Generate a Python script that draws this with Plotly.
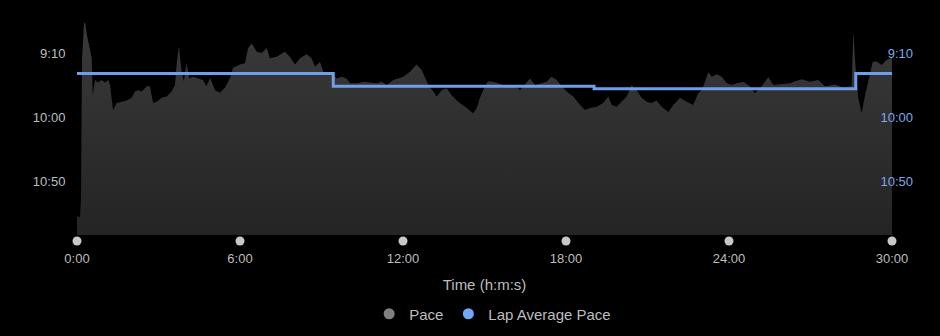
import plotly.graph_objects as go

# Pace samples: elapsed time (s) and pace (s per mile)
time_s = [0, 6.6, 8.8, 11, 15.5, 17.7, 22, 28.7, 32.5, 34.7, 39.8, 46.4, 54.6, 61.8, 69, 73,
          79.5, 87.7, 98.7, 109.8, 120.8, 128, 135.4, 142.9, 154, 161, 167.9, 176, 187, 198,
          209, 216.4, 220, 225, 231, 236, 242, 248, 256, 267, 278, 286, 294, 305, 316, 327,
          338, 344.5, 360, 371, 378, 386, 397, 408, 419, 426, 441, 459, 470, 481.5, 492.5,
          507, 518, 525.6, 536.7, 544, 562.5, 573.6, 584.6, 595.6, 603, 617.7, 636, 647, 662,
          673, 684, 698.6, 709.6, 720.7, 735.5, 750, 761, 776, 787, 794.5, 805.5, 816.5,
          827.6, 842, 857, 875, 883, 890, 901, 908, 919, 930.5, 941.5, 956, 967, 978, 989,
          1000.5, 1011.5, 1026, 1037, 1048, 1059.5, 1070.5, 1081.5, 1096, 1111, 1122, 1133,
          1148, 1162, 1173.5, 1181, 1192, 1203, 1214, 1225, 1236, 1247, 1258, 1269, 1280,
          1291, 1306, 1317, 1332, 1346.5, 1361, 1372, 1380, 1394.5, 1402, 1413, 1424, 1435,
          1446, 1457.6, 1471.6, 1486, 1497, 1508.5, 1527, 1538, 1560, 1575, 1586, 1600.5,
          1619, 1637, 1652, 1674, 1692.5, 1711, 1714.5, 1719, 1725.5, 1733, 1740.5, 1751.5,
          1757.5, 1767, 1777, 1788, 1800]
pace_s = [678, 678, 665, 555, 527, 526, 536, 546, 554, 583, 571, 573, 571, 573, 571, 575,
          594.5, 589, 588, 587, 585, 580, 579, 580, 576, 576, 589, 588, 585, 584,
          580, 575, 559, 545, 565, 572, 558, 570, 568.5, 570, 571, 576, 569.5, 579, 581, 577,
          569.5, 561.5, 559, 558, 546, 542.5, 549, 550, 546, 554, 553, 549, 553, 559, 554,
          551, 554, 560.7, 557, 564.6, 566, 570, 568.5, 570, 573.7, 573.7, 572.4, 573, 573.7,
          572.4, 575, 571, 570, 568.5, 564.6, 559, 563, 575, 580, 584, 579, 577.6,
          583, 588, 592, 597, 593, 585, 576, 572, 572.4, 573.7, 575, 575.5, 575, 579, 575,
          570, 575, 573.7, 572.4, 568.5, 571, 576, 580, 584, 590.6, 594.5, 593,
          592, 589, 584, 590.6, 592, 588, 584, 575, 579, 585, 588, 589, 587,
          592, 596, 590.6, 585, 588, 590.6, 581.5, 579, 565, 568.5, 566.6, 568.5, 573.7,
          575, 573.7, 572.4, 576, 581.5, 577.6, 569, 575, 574.5, 573.7, 572, 570.5,
          572.4, 571, 576, 574.5, 577, 576, 533.4, 559, 585.4, 597, 583, 564.6,
          556.8, 556.8, 559.4, 555.5, 553.5]

# Lap average pace (s per mile), step at each lap start
lap_time_s = [0, 566, 1142, 1720, 1800]
lap_pace_s = [566, 576, 578, 566, 566]

x_tick_vals = [0, 360, 720, 1080, 1440, 1800]
x_tick_text = ["0:00", "6:00", "12:00", "18:00", "24:00", "30:00"]
y_tick_vals = [550, 600, 650]
y_tick_text = ["9:10", "10:00", "10:50"]

Y_TOP = 524.2        # axis top
Y_AXIS_BOTTOM = 699.2  # axis bottom (leaves room for the tick dots)
Y_FLOOR = 692.2      # floor of the pace area
DOT_Y = 0.0134       # tick-dot row on the hidden overlay axis
FONT = "Liberation Sans, Arial, sans-serif"
GRAY = "#bdbdbd"
BLUE = "#6f9fe8"

fig = go.Figure()

# floor for area fill
fig.add_trace(go.Scatter(x=[x_tick_vals[0], x_tick_vals[-1]], y=[Y_FLOOR, Y_FLOOR],
                         mode="lines", line=dict(width=0), showlegend=False,
                         hoverinfo="skip"))
fig.add_trace(go.Scatter(x=time_s, y=pace_s, mode="lines", line=dict(width=0),
                         fill="tonexty",
                         fillgradient=dict(type="vertical",
                                           colorscale=[[0, "#3a3a3a"], [1, "#242424"]],
                                           start=Y_TOP, stop=Y_FLOOR),
                         showlegend=False, name="Pace"))
fig.add_trace(go.Scatter(x=lap_time_s, y=lap_pace_s, mode="lines", yaxis="y2",
                         line=dict(color=BLUE, width=3, shape="hv"),
                         showlegend=False, name="Lap Average Pace"))
# tick dots under the x axis
fig.add_trace(go.Scatter(x=x_tick_vals, y=[DOT_Y] * len(x_tick_vals), yaxis="y3",
                         mode="markers", marker=dict(size=9, color="#c8c8c8"),
                         cliponaxis=False, showlegend=False, hoverinfo="skip"))
# legend entries
fig.add_trace(go.Scatter(x=[None], y=[None], mode="markers", name="Pace",
                         marker=dict(size=11, color="#808080")))
fig.add_trace(go.Scatter(x=[None], y=[None], mode="markers", name="Lap Average Pace",
                         marker=dict(size=11, color="#6ea8f6")))

fig.update_layout(
    width=940, height=336,
    margin=dict(l=77, r=48, t=20, b=92, autoexpand=False),
    paper_bgcolor="#000000", plot_bgcolor="#000000",
    font=dict(family=FONT, color=GRAY, size=13),
    xaxis=dict(range=[x_tick_vals[0], x_tick_vals[-1]], tickvals=x_tick_vals,
               ticktext=x_tick_text, showgrid=False, zeroline=False, showline=False,
               ticks="", ticklabelstandoff=5, tickfont=dict(size=13, color=GRAY),
               title=dict(text="Time (h:m:s)", font=dict(size=15, color=GRAY), standoff=14)),
    yaxis=dict(range=[Y_AXIS_BOTTOM, Y_TOP], tickvals=y_tick_vals, ticktext=y_tick_text,
               showgrid=False, zeroline=False, showline=False,
               ticks="outside", ticklen=8, tickcolor="rgba(0,0,0,0)",
               tickfont=dict(size=13, color=GRAY)),
    yaxis2=dict(range=[Y_AXIS_BOTTOM, Y_TOP], tickvals=y_tick_vals, ticktext=y_tick_text,
                overlaying="y", side="left", anchor="free", position=1,
                showgrid=False, zeroline=False, showline=False, ticks="",
                ticklabelstandoff=-21,
                tickfont=dict(size=13, color="#7ea8ea")),
    yaxis3=dict(range=[0, 1], overlaying="y", visible=False),
    legend=dict(orientation="h", x=0.51, xanchor="center", y=-0.3125, yanchor="middle",
                traceorder="normal",
                font=dict(size=15, color=GRAY), bgcolor="rgba(0,0,0,0)"),
    hovermode=False,
)

fig.write_html("out.html")
